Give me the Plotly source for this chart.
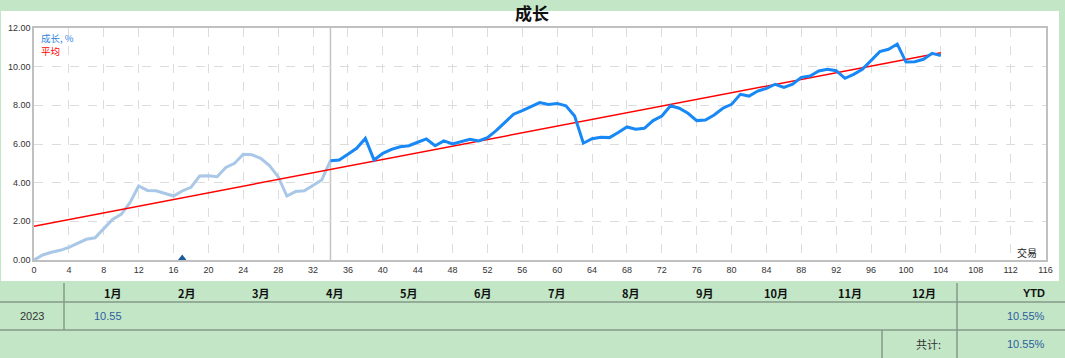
import plotly.graph_objects as go

W, H = 1065, 358

# ---------------- data ----------------
trades_light = list(range(0, 35))
growth_light = [0.00, 0.26, 0.40, 0.50, 0.65, 0.86, 1.07, 1.15, 1.60, 2.10,
                2.36, 2.97, 3.83, 3.60, 3.58, 3.45, 3.31, 3.57, 3.76, 4.35,
                4.36, 4.31, 4.79, 5.00, 5.47, 5.44, 5.26, 4.88, 4.31, 3.31,
                3.54, 3.58, 3.88, 4.14, 5.14]

trades_dark = list(range(34, 105))
growth_dark = [5.14, 5.17, 5.47, 5.78, 6.29, 5.17, 5.52, 5.72, 5.86, 5.91,
               6.09, 6.26, 5.91, 6.16, 6.00, 6.12, 6.24, 6.16, 6.33, 6.69,
               7.10, 7.54, 7.73, 7.93, 8.14, 8.05, 8.10, 7.98, 7.45, 6.04,
               6.27, 6.35, 6.33, 6.59, 6.88, 6.76, 6.81, 7.21, 7.45, 7.98,
               7.85, 7.59, 7.21, 7.24, 7.50, 7.85, 8.05, 8.57, 8.48, 8.74,
               8.88, 9.09, 8.93, 9.10, 9.45, 9.52, 9.78, 9.86, 9.79, 9.40,
               9.60, 9.86, 10.31, 10.78, 10.90, 11.17, 10.24, 10.26, 10.38, 10.69,
               10.57]

avg_x = [0, 104]
avg_y = [1.75, 10.72]

marker_x = [17]
marker_y = [0.08]

split_trade = 34

x_ticks = list(range(0, 117, 4))
y_ticks = [0, 2, 4, 6, 8, 10, 12]

months = ["1月", "2月", "3月", "4月", "5月", "6月", "7月", "8月", "9月", "10月", "11月", "12月"]
month_right_px = [124, 198, 272, 346, 420, 494, 568, 642, 716, 790, 864, 938]
year_label = "2023"
month_values = ["10.55"] + [""] * 11
ytd_label = "YTD"
ytd_value = "10.55%"
total_label = "共计:"
total_value = "10.55%"

title_text = "成长"
legend_growth = "成长, %"
legend_avg = "平均"
trades_label = "交易"

# ---------------- helpers ----------------
def fx(px):
    return px / W

def fy(py):
    return 1 - py / H

GREEN = "#c2e6c6"
LINE_BLUE = "#1788f5"
LIGHT_BLUE = "#a9c7e6"
FONT = "Liberation Sans, Arial, Noto Sans CJK SC, sans-serif"
CJK = "Noto Sans CJK SC, Liberation Sans, sans-serif"

fig = go.Figure()

fig.add_trace(go.Scatter(x=trades_light, y=growth_light, mode="lines",
                         line=dict(color=LIGHT_BLUE, width=3), hoverinfo="skip"))
fig.add_trace(go.Scatter(x=avg_x, y=avg_y, mode="lines",
                         line=dict(color="#ff0000", width=1.5), hoverinfo="skip"))
fig.add_trace(go.Scatter(x=trades_dark, y=growth_dark, mode="lines",
                         line=dict(color=LINE_BLUE, width=3), hoverinfo="skip"))
fig.add_trace(go.Scatter(x=marker_x, y=marker_y, mode="markers", cliponaxis=False,
                         marker=dict(symbol="triangle-up", size=8, color="#1d5c9c"),
                         hoverinfo="skip"))

shapes = []
# white chart panel
shapes.append(dict(type="rect", xref="paper", yref="paper", layer="below",
                   x0=fx(1), x1=fx(1059), y0=fy(281), y1=fy(11),
                   fillcolor="white", line=dict(width=0)))
# vertical split line
shapes.append(dict(type="line", xref="x", yref="y", x0=split_trade, x1=split_trade,
                   y0=0, y1=12, line=dict(color="#c4c4c4", width=1.5), layer="below"))
# table lines
TL = "#869888"
shapes.append(dict(type="line", xref="paper", yref="paper", x0=0, x1=1,
                   y0=fy(302), y1=fy(302), line=dict(color=TL, width=1.5)))
shapes.append(dict(type="line", xref="paper", yref="paper", x0=0, x1=1,
                   y0=fy(330), y1=fy(330), line=dict(color=TL, width=1.5)))
shapes.append(dict(type="line", xref="paper", yref="paper", x0=fx(64), x1=fx(64),
                   y0=fy(283), y1=fy(330), line=dict(color=TL, width=1.5)))
shapes.append(dict(type="line", xref="paper", yref="paper", x0=fx(957), x1=fx(957),
                   y0=fy(283), y1=fy(358), line=dict(color=TL, width=1.5)))
shapes.append(dict(type="line", xref="paper", yref="paper", x0=fx(882), x1=fx(882),
                   y0=fy(330), y1=fy(358), line=dict(color=TL, width=1.5)))

ann = []
ann.append(dict(text=f"<b>{title_text}</b>", x=fx(532), y=fy(13), xref="paper", yref="paper",
                showarrow=False, xanchor="center", yanchor="middle",
                font=dict(size=17, color="#111", family=CJK)))
ann.append(dict(text=legend_growth, x=fx(39), y=fy(38), xref="paper", yref="paper",
                showarrow=False, xanchor="left", yanchor="middle",
                font=dict(size=9.5, color="#2f86e0", family=CJK)))
ann.append(dict(text=legend_avg, x=fx(39), y=fy(51), xref="paper", yref="paper",
                showarrow=False, xanchor="left", yanchor="middle",
                font=dict(size=9.5, color="#ff0000", family=CJK)))
ann.append(dict(text=trades_label, x=fx(1039), y=fy(253), xref="paper", yref="paper",
                showarrow=False, xanchor="right", yanchor="middle",
                font=dict(size=10, color="#222", family=CJK)))

for m, rp, v in zip(months, month_right_px, month_values):
    ann.append(dict(text=f"<b>{m}</b>", x=fx(rp), y=fy(293), xref="paper", yref="paper",
                    showarrow=False, xanchor="right", yanchor="middle",
                    font=dict(size=11, color="#111", family=CJK)))
    if v:
        ann.append(dict(text=v, x=fx(rp), y=fy(316), xref="paper", yref="paper",
                        showarrow=False, xanchor="right", yanchor="middle",
                        font=dict(size=11, color="#2e5e9e", family=FONT)))
ann.append(dict(text=f"<b>{ytd_label}</b>", x=fx(1047), y=fy(293), xref="paper", yref="paper",
                showarrow=False, xanchor="right", yanchor="middle",
                font=dict(size=11, color="#111", family=FONT)))
ann.append(dict(text=year_label, x=fx(32), y=fy(316), xref="paper", yref="paper",
                showarrow=False, xanchor="center", yanchor="middle",
                font=dict(size=11, color="#333", family=FONT)))
ann.append(dict(text=ytd_value, x=fx(1047), y=fy(316), xref="paper", yref="paper",
                showarrow=False, xanchor="right", yanchor="middle",
                font=dict(size=11, color="#2e5e9e", family=FONT)))
ann.append(dict(text=total_label, x=fx(928), y=fy(344), xref="paper", yref="paper",
                showarrow=False, xanchor="center", yanchor="middle",
                font=dict(size=11, color="#333", family=CJK)))
ann.append(dict(text=total_value, x=fx(1047), y=fy(344), xref="paper", yref="paper",
                showarrow=False, xanchor="right", yanchor="middle",
                font=dict(size=11, color="#2e5e9e", family=FONT)))

fig.update_layout(
    width=W, height=H,
    margin=dict(l=0, r=0, t=0, b=0, autoexpand=False),
    paper_bgcolor=GREEN, plot_bgcolor="white",
    showlegend=False,
    shapes=shapes, annotations=ann,
    xaxis=dict(domain=[fx(34), fx(1045.5)], range=[0, 116], tickvals=x_ticks,
               showgrid=True, gridcolor="#dcdcdc", griddash="dash", gridwidth=1,
               zeroline=False, showline=True, mirror=True, linecolor="#c0c0c0", linewidth=1.5,
               ticks="", automargin=False,
               tickfont=dict(size=9, color="#333", family=FONT), fixedrange=True),
    yaxis=dict(domain=[fy(260), fy(28)], range=[0, 12], tickvals=y_ticks, tickformat=".2f",
               showgrid=True, gridcolor="#dcdcdc", griddash="dash", gridwidth=1,
               zeroline=False, showline=True, mirror=True, linecolor="#c0c0c0", linewidth=1.5,
               ticks="", automargin=False,
               tickfont=dict(size=9, color="#333", family=FONT), fixedrange=True),
)

fig.write_html("out.html")
